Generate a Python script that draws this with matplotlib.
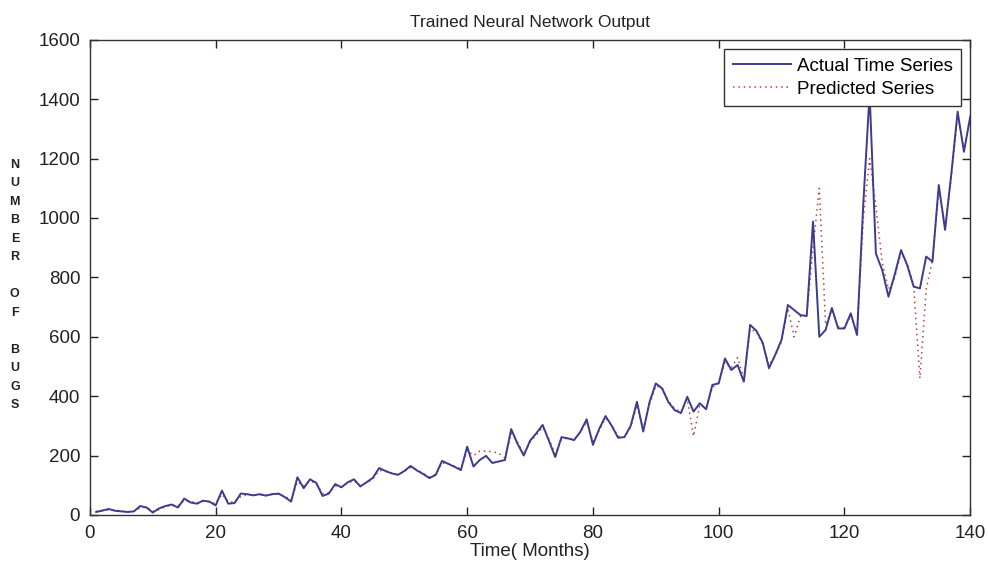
import matplotlib
matplotlib.use("Agg")
import matplotlib.pyplot as plt

plt.rcParams['font.family'] = ['Liberation Sans', 'DejaVu Sans']

months = list(range(1, 141))

actual_bugs = [
    10, 15, 20, 14, 12, 10, 12, 30, 25, 8,
    22, 30, 35, 25, 55, 42, 38, 48, 45, 32,
    82, 38, 40, 72, 70, 66, 70, 65, 70, 72,
    60, 45, 127, 90, 120, 108, 64, 72, 104, 93,
    110, 120, 96, 110, 125, 158, 148, 140, 135, 148,
    165, 150, 138, 124, 135, 182, 172, 162, 151, 230,
    163, 185, 199, 175, 180, 185, 289, 240, 200, 250,
    275, 303, 250, 195, 262, 258, 252, 280, 322, 236,
    290, 333, 300, 260, 262, 300, 381, 281, 380, 443,
    426, 380, 353, 343, 398, 348, 376, 356, 438, 443,
    527, 488, 505, 449, 640, 620, 580, 494, 540, 590,
    707, 690, 673, 670, 988, 600, 623, 697, 628, 628,
    679, 606, 1050, 1420, 880, 825, 735, 810, 892, 840,
    769, 763, 870, 853, 1111, 960, 1150, 1358, 1223, 1341,
]

predicted_bugs = [
    12, 14, 18, 16, 13, 11, 12, 24, 26, 12,
    18, 28, 33, 30, 48, 45, 40, 46, 44, 38,
    70, 45, 42, 62, 68, 67, 68, 66, 69, 70,
    63, 50, 112, 98, 115, 105, 72, 75, 98, 95,
    108, 115, 100, 108, 122, 150, 147, 140, 136, 146,
    160, 152, 140, 128, 137, 175, 172, 164, 155, 218,
    200, 215, 215, 213, 208, 192, 275, 245, 205, 245,
    270, 295, 255, 205, 255, 258, 254, 278, 315, 245,
    285, 325, 302, 265, 262, 295, 370, 290, 372, 435,
    428, 385, 358, 347, 390, 265, 370, 360, 430, 445,
    515, 495, 530, 460, 625, 618, 575, 505, 535, 585,
    695, 600, 668, 672, 900, 1100, 640, 690, 635, 630,
    672, 612, 1000, 1200, 1040, 850, 760, 800, 885, 845,
    775, 460, 760, 860, 1095, 970, 1140, 1345, 1230, 1335,
]

x_ticks = [0, 20, 40, 60, 80, 100, 120, 140]
y_ticks = [0, 200, 400, 600, 800, 1000, 1200, 1400, 1600]

fig = plt.figure(figsize=(9.88, 5.69), dpi=100)
ax = fig.add_axes([0.091, 0.095, 0.891, 0.835])

ax.plot(months, actual_bugs, color='#3b3b8f', linewidth=1.4,
        label='Actual Time Series', zorder=3)
ax.plot(months, predicted_bugs, color='#c0403a', linewidth=1.1,
        linestyle=(0, (1, 2.5)), label='Predicted Series', zorder=2)

ax.set_xlim(0, 140)
ax.set_ylim(0, 1600)
ax.set_xticks(x_ticks)
ax.set_yticks(y_ticks)
ax.tick_params(direction='in', top=True, right=True, length=6,
               width=1.0, labelsize=13.5, colors='#222222', pad=7)
for s in ax.spines.values():
    s.set_linewidth(1.0)
    s.set_color('#333333')

ax.set_title('Trained Neural Network Output', fontsize=12.5, pad=9,
             color='#222222')
ax.set_xlabel('Time( Months)', fontsize=13.5, labelpad=1, color='#222222')

ylab = "N\nU\nM\nB\nE\nR\n\nO\nF\n\nB\nU\nG\nS"
fig.text(0.015, 0.499, ylab, fontsize=9, fontweight='bold',
         ha='center', va='center', linespacing=1.72, color='#222222')

leg = ax.legend(loc='upper right', fontsize=13.5, frameon=True,
                fancybox=False, framealpha=1, edgecolor='#333333',
                borderpad=0.45, labelspacing=0.3, handlelength=3.1,
                handletextpad=0.3, borderaxespad=0.5)
leg.get_frame().set_linewidth(1.0)

fig.savefig('out.png', dpi=100)
